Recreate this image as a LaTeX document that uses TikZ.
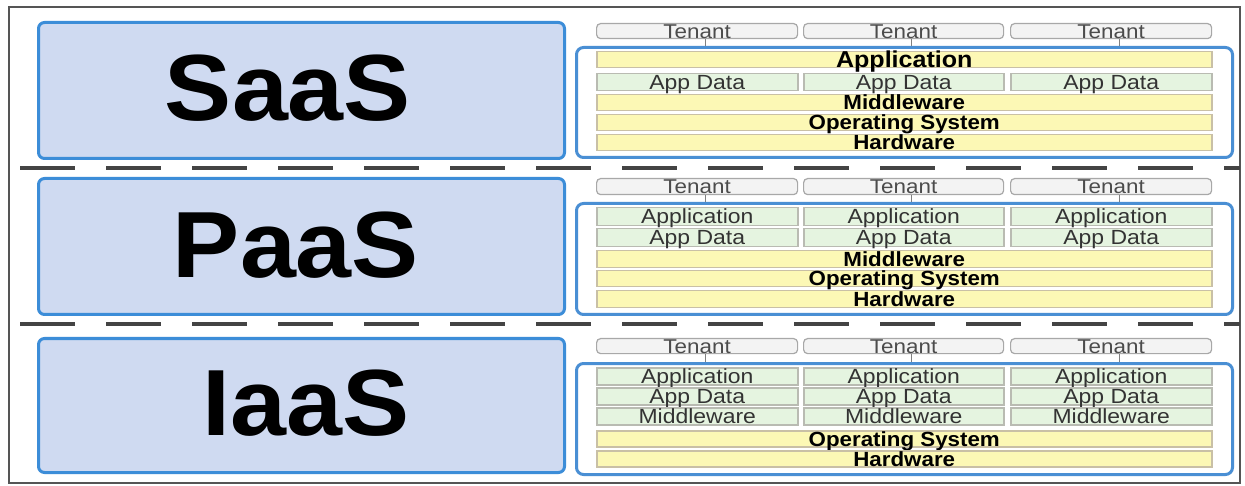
\documentclass[tikz,border=0pt]{standalone}
\usepackage{fontspec}
\setmainfont{Liberation Sans}
\newfontfamily\bigf[FakeStretch=1.07]{Liberation Sans}
\newfontfamily\regf[FakeStretch=1.12]{Liberation Sans}
\newfontfamily\boldf[FakeStretch=1.09]{Liberation Sans}
\definecolor{boxfill}{HTML}{CFDAF1}
\definecolor{boxblue}{HTML}{3C8DD8}
\definecolor{contblue}{HTML}{4A8FD4}
\definecolor{yfill}{HTML}{FCF8B5}
\definecolor{ybord}{HTML}{C9C0A6}
\definecolor{gfill}{HTML}{E5F4E0}
\definecolor{gbord}{HTML}{B9BBB2}
\definecolor{tfill}{HTML}{F3F3F3}
\definecolor{tbord}{HTML}{A8A8A8}
\definecolor{framec}{HTML}{555555}
\definecolor{dashc}{HTML}{444444}
\tikzset{
  outerframe/.style={draw=framec, line width=2pt},
  sepline/.style={draw=dashc, line width=4pt, dash pattern=on 55pt off 31pt},
  bigbox/.style={draw=boxblue, fill=boxfill, line width=3pt, rounded corners=6pt, inner sep=0pt, anchor=north west},
  bigtxt/.style={font=\bigf\bfseries\fontsize{94}{94}\selectfont, text=black, anchor=base, inner sep=0pt},
  container/.style={draw=contblue, line width=3pt, rounded corners=7pt, inner sep=0pt, anchor=north west},
  tenant/.style={draw=tbord, fill=tfill, line width=1.2pt, rounded corners=4pt, inner sep=0pt, anchor=north west,
    font=\regf\fontsize{20}{20}\selectfont, text=black!70, text height=14pt, text depth=0pt},
  yrow/.style={draw=ybord, fill=yfill, line width=1.5pt, inner sep=0pt, anchor=north west,
    font=\boldf\bfseries\fontsize{20.5}{20.5}\selectfont, text=black, text height=14.5pt, text depth=0pt},
  gcell/.style={draw=gbord, fill=gfill, line width=1.5pt, inner sep=0pt, anchor=north west,
    font=\regf\fontsize{20.5}{20.5}\selectfont, text=black!80, text height=14.5pt, text depth=0pt},
  tlink/.style={draw=gray, line width=1pt},
}
\begin{document}
\begin{tikzpicture}[x=1pt, y=-1pt]
\useasboundingbox (0,0) rectangle (1245,486);
\fill[white] (0,0) rectangle (1245,486);
\draw[outerframe] (9,7) rectangle (1240,483);
% separators
\draw[sepline] (20,168) -- (1240,168);
\draw[sepline] (20,324) -- (1240,324);

% ---------- SaaS ----------
\node[bigbox, minimum width=526pt, minimum height=136pt] (s-box) at (37,21) {};
\node[bigtxt] (s-lbl) at (288,121) {SaaS};
\node[container, minimum width=656pt, minimum height=110pt] (s-cont) at (575,46) {};
\foreach \i/\x/\w in {1/596/201,2/803/200,3/1010/201}{
  \node[tenant, minimum width=\w pt, minimum height=15pt] (s-t\i) at (\x,23) {Tenant};
  \draw[tlink] ([xshift=8pt]s-t\i.south) -- ([xshift=8pt]s-t\i.south |- s-cont.north);
}
\node[yrow, minimum width=615pt, minimum height=16pt, font=\boldf\bfseries\fontsize{23}{23}\selectfont, text height=16pt] (s-app) at (596,51) {Application};
\foreach \i/\x/\w in {1/596/201,2/803/200,3/1010/201}{
  \node[gcell, minimum width=\w pt, minimum height=17pt] (s-ad\i) at (\x,73) {App Data};
}
\node[yrow, minimum width=615pt, minimum height=16pt] (s-mw) at (596,94) {Middleware};
\node[yrow, minimum width=615pt, minimum height=16pt] (s-os) at (596,114) {Operating System};
\node[yrow, minimum width=615pt, minimum height=16pt] (s-hw) at (596,134) {Hardware};

% ---------- PaaS ----------
\node[bigbox, minimum width=526pt, minimum height=136pt] (p-box) at (37,177) {};
\node[bigtxt] (p-lbl) at (296,278) {PaaS};
\node[container, minimum width=656pt, minimum height=111pt] (p-cont) at (575,202) {};
\foreach \i/\x/\w in {1/596/201,2/803/200,3/1010/201}{
  \node[tenant, minimum width=\w pt, minimum height=16pt] (p-t\i) at (\x,178) {Tenant};
  \draw[tlink] ([xshift=8pt]p-t\i.south) -- ([xshift=8pt]p-t\i.south |- p-cont.north);
  \node[gcell, minimum width=\w pt, minimum height=18pt] (p-ap\i) at (\x,207) {Application};
  \node[gcell, minimum width=\w pt, minimum height=18pt] (p-ad\i) at (\x,228) {App Data};
}
\node[yrow, minimum width=615pt, minimum height=17pt] (p-mw) at (596,250) {Middleware};
\node[yrow, minimum width=615pt, minimum height=16pt] (p-os) at (596,270) {Operating System};
\node[yrow, minimum width=615pt, minimum height=17pt] (p-hw) at (596,290) {Hardware};

% ---------- IaaS ----------
\node[bigbox, minimum width=526pt, minimum height=134pt] (i-box) at (37,337) {};
\node[bigtxt] (i-lbl) at (306,435) {IaaS};
\node[container, minimum width=656pt, minimum height=111pt] (i-cont) at (575,362) {};
\foreach \i/\x/\w in {1/596/201,2/803/200,3/1010/201}{
  \node[tenant, minimum width=\w pt, minimum height=15pt] (i-t\i) at (\x,338) {Tenant};
  \draw[tlink] ([xshift=8pt]i-t\i.south) -- ([xshift=8pt]i-t\i.south |- i-cont.north);
  \node[gcell, minimum width=\w pt, minimum height=17pt] (i-ap\i) at (\x,367) {Application};
  \node[gcell, minimum width=\w pt, minimum height=17pt] (i-ad\i) at (\x,387) {App Data};
  \node[gcell, minimum width=\w pt, minimum height=17pt] (i-mw\i) at (\x,407) {Middleware};
}
\node[yrow, minimum width=615pt, minimum height=16pt] (i-os) at (596,430) {Operating System};
\node[yrow, minimum width=615pt, minimum height=16pt] (i-hw) at (596,450) {Hardware};
\end{tikzpicture}
\end{document}
